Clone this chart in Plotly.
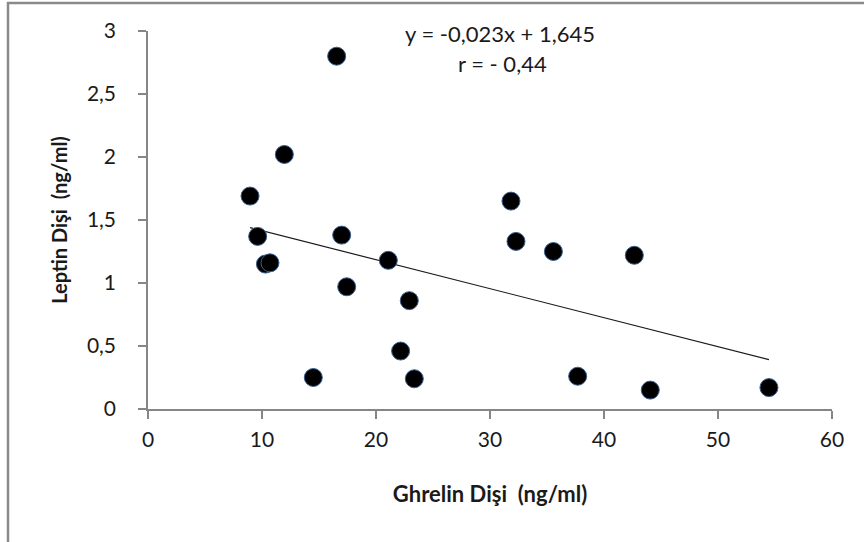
import plotly.graph_objects as go

ghrelin = [8.95, 9.62, 10.3, 10.7, 11.96, 14.5, 16.55, 16.99, 17.43, 21.08, 22.16, 22.92, 23.36,
           31.84, 32.28, 35.56, 37.69, 42.66, 44.06, 54.47]
leptin = [1.69, 1.37, 1.15, 1.16, 2.02, 0.25, 2.80, 1.38, 0.97, 1.18, 0.46, 0.86, 0.24,
          1.65, 1.33, 1.25, 0.26, 1.22, 0.15, 0.17]

slope = -0.023
intercept = 1.645
trend_x = [min(ghrelin), max(ghrelin)]
trend_y = [slope * v + intercept for v in trend_x]

x_ticks = [0, 10, 20, 30, 40, 50, 60]
y_ticks = [0, 0.5, 1, 1.5, 2, 2.5, 3]
y_tick_labels = ["0", "0,5", "1", "1,5", "2", "2,5", "3"]

FONT = "Lato, Carlito, Calibri, sans-serif"
W, H = 864, 542
L, R, T, B = 148, 32, 31, 133
pw, ph = W - L - R, H - T - B

def px(xp):
    return (xp - L) / pw

def py(yp):
    return (H - B - yp) / ph

fig = go.Figure()
fig.add_trace(go.Scatter(x=trend_x, y=trend_y, mode="lines",
                         line=dict(color="#1a1a1a", width=1.2), showlegend=False,
                         hoverinfo="skip"))
fig.add_trace(go.Scatter(x=ghrelin, y=leptin, mode="markers",
                         marker=dict(size=18, color="#000000",
                                     line=dict(color="#3a5f8f", width=1)),
                         showlegend=False))

fig.update_layout(
    width=W, height=H,
    margin=dict(l=L, r=R, t=T, b=B),
    paper_bgcolor="white", plot_bgcolor="white",
    font=dict(family=FONT, size=21, color="#1a1a1a"),
    xaxis=dict(range=[0, 60], tickvals=x_ticks, ticktext=[str(v) for v in x_ticks],
               showgrid=False, zeroline=False, showline=True, linecolor="#868686",
               linewidth=1.5, ticks="outside", ticklen=8, tickcolor="#868686",
               tickwidth=1.5, tickfont=dict(family=FONT, size=21, color="#1a1a1a"),
               ticklabelstandoff=3,
               title=dict(text="<b>Ghrelin Dişi  (ng/ml)</b>", standoff=37,
                          font=dict(family=FONT, size=22, color="#1a1a1a"))),
    yaxis=dict(range=[0, 3], tickvals=y_ticks, ticktext=y_tick_labels,
               showgrid=False, zeroline=False, showline=True, linecolor="#868686",
               linewidth=1.5, ticks="outside", ticklen=8, tickcolor="#868686",
               tickwidth=1.5, tickfont=dict(family=FONT, size=21, color="#1a1a1a"),
               ticklabelstandoff=18,
               title=dict(text="<b>Leptin Dişi  (ng/ml)</b>", standoff=14,
                          font=dict(family=FONT, size=20, color="#1a1a1a"))),
    shapes=[
        dict(type="line", xref="paper", yref="paper", x0=px(7), x1=px(866), y0=py(3), y1=py(3),
             line=dict(color="#8a8a8a", width=2.5)),
        dict(type="line", xref="paper", yref="paper", x0=px(8), x1=px(8), y0=py(2), y1=py(545),
             line=dict(color="#8a8a8a", width=2.5)),
    ],
    annotations=[
        dict(text="y = -0,023x + 1,645", xref="paper", yref="paper", x=px(500), y=py(33),
             showarrow=False, xanchor="center", yanchor="middle",
             font=dict(family=FONT, size=22, color="#1a1a1a")),
        dict(text="r = - 0,44", xref="paper", yref="paper", x=px(502), y=py(63),
             showarrow=False, xanchor="center", yanchor="middle",
             font=dict(family=FONT, size=22, color="#1a1a1a")),
    ],
)

fig.write_html("out.html")
